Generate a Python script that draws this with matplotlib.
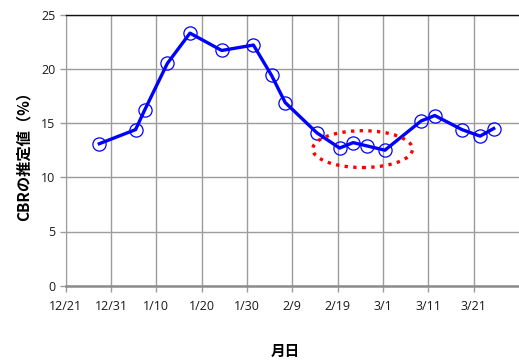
import datetime as dt
import matplotlib
matplotlib.use("Agg")
import matplotlib.pyplot as plt
import matplotlib.dates as mdates
from matplotlib.patches import Ellipse

plt.rcParams['font.family'] = ['Open Sans', 'Noto Sans CJK JP', 'DejaVu Sans']

# 測定日 (月, 日, 時) と CBR の推定値
month_day = [(12, 28, 10), (1, 5, 10), (1, 7, 10), (1, 12, 10), (1, 17, 10),
             (1, 24, 10), (1, 31, 10), (2, 4, 10), (2, 7, 10), (2, 14, 10),
             (2, 19, 10), (2, 22, 10), (2, 25, 10), (3, 1, 10), (3, 9, 10),
             (3, 12, 10), (3, 18, 10), (3, 22, 10), (3, 25, 10)]
cbr = [13.1, 14.4, 16.2, 20.5, 23.3, 21.7, 22.2,
       19.4, 16.9, 14.1, 12.7, 13.2, 12.9, 12.5,
       15.2, 15.7, 14.4, 13.8, 14.5]
tick_labels = ['12/21', '12/31', '1/10', '1/20', '1/30', '2/9', '2/19',
               '3/1', '3/11', '3/21']


def to_date(m, d, h=0):
    return dt.datetime(2014 if m == 12 else 2015, m, d, h)


dates = [to_date(m, d, h) for m, d, h in month_day]
start = dt.datetime(2014, 12, 21)
ticks = [start + dt.timedelta(days=10 * i) for i in range(len(tick_labels))]

fig = plt.figure(figsize=(5.19, 3.6), dpi=100)
ax = fig.add_axes([65.7 / 519, 1 - 285.7 / 360, 1 - 65.7 / 519, (285.7 - 14.7) / 360])

grid_c = '#9c9c9c'
ax.plot(dates, cbr, color='#0000ff', lw=2.4, marker='o', ms=9.5,
        mfc='none', mec='#0000ff', mew=0.9, zorder=3)

ax.set_xlim(mdates.date2num(start), mdates.date2num(dt.datetime(2015, 3, 31)))
ax.set_ylim(0, 25)
ax.set_yticks(range(0, 26, 5))
ax.set_xticks([mdates.date2num(t) for t in ticks])
ax.set_xticklabels(tick_labels)
ax.grid(True, color=grid_c, lw=1.0)
ax.set_axisbelow(True)

ax.spines['right'].set_visible(False)
ax.spines['top'].set_color('#111111')
ax.spines['top'].set_linewidth(1.0)
ax.spines['left'].set_color(grid_c)
ax.spines['bottom'].set_color('#8c8c8c')
ax.spines['bottom'].set_linewidth(1.8)
ax.tick_params(axis='both', colors=grid_c, labelcolor='#1a1a1a', labelsize=9,
               length=4, width=1.0)
ax.tick_params(axis='x', pad=6)

# 低下した区間を囲む赤い点線の楕円
center_x = mdates.date2num(dt.datetime(2015, 2, 24, 12))
ell = Ellipse((center_x, 12.6), width=22, height=3.4, fill=False,
              ec='#ff0000', ls=(0, (1, 1.6)), lw=2.4, zorder=4)
ax.add_patch(ell)

jp = ['Noto Sans CJK JP', 'DejaVu Sans']
fig.text(24 / 519, 1 - 152 / 360, 'CBRの推定値（%）', rotation=90, ha='center',
         va='center', fontsize=11, fontweight='bold', family=jp)
fig.text(285 / 519, 1 - 351 / 360, '月日', ha='center', va='center',
         fontsize=10.5, fontweight='bold', family=jp)

fig.savefig('out.png', dpi=100)
